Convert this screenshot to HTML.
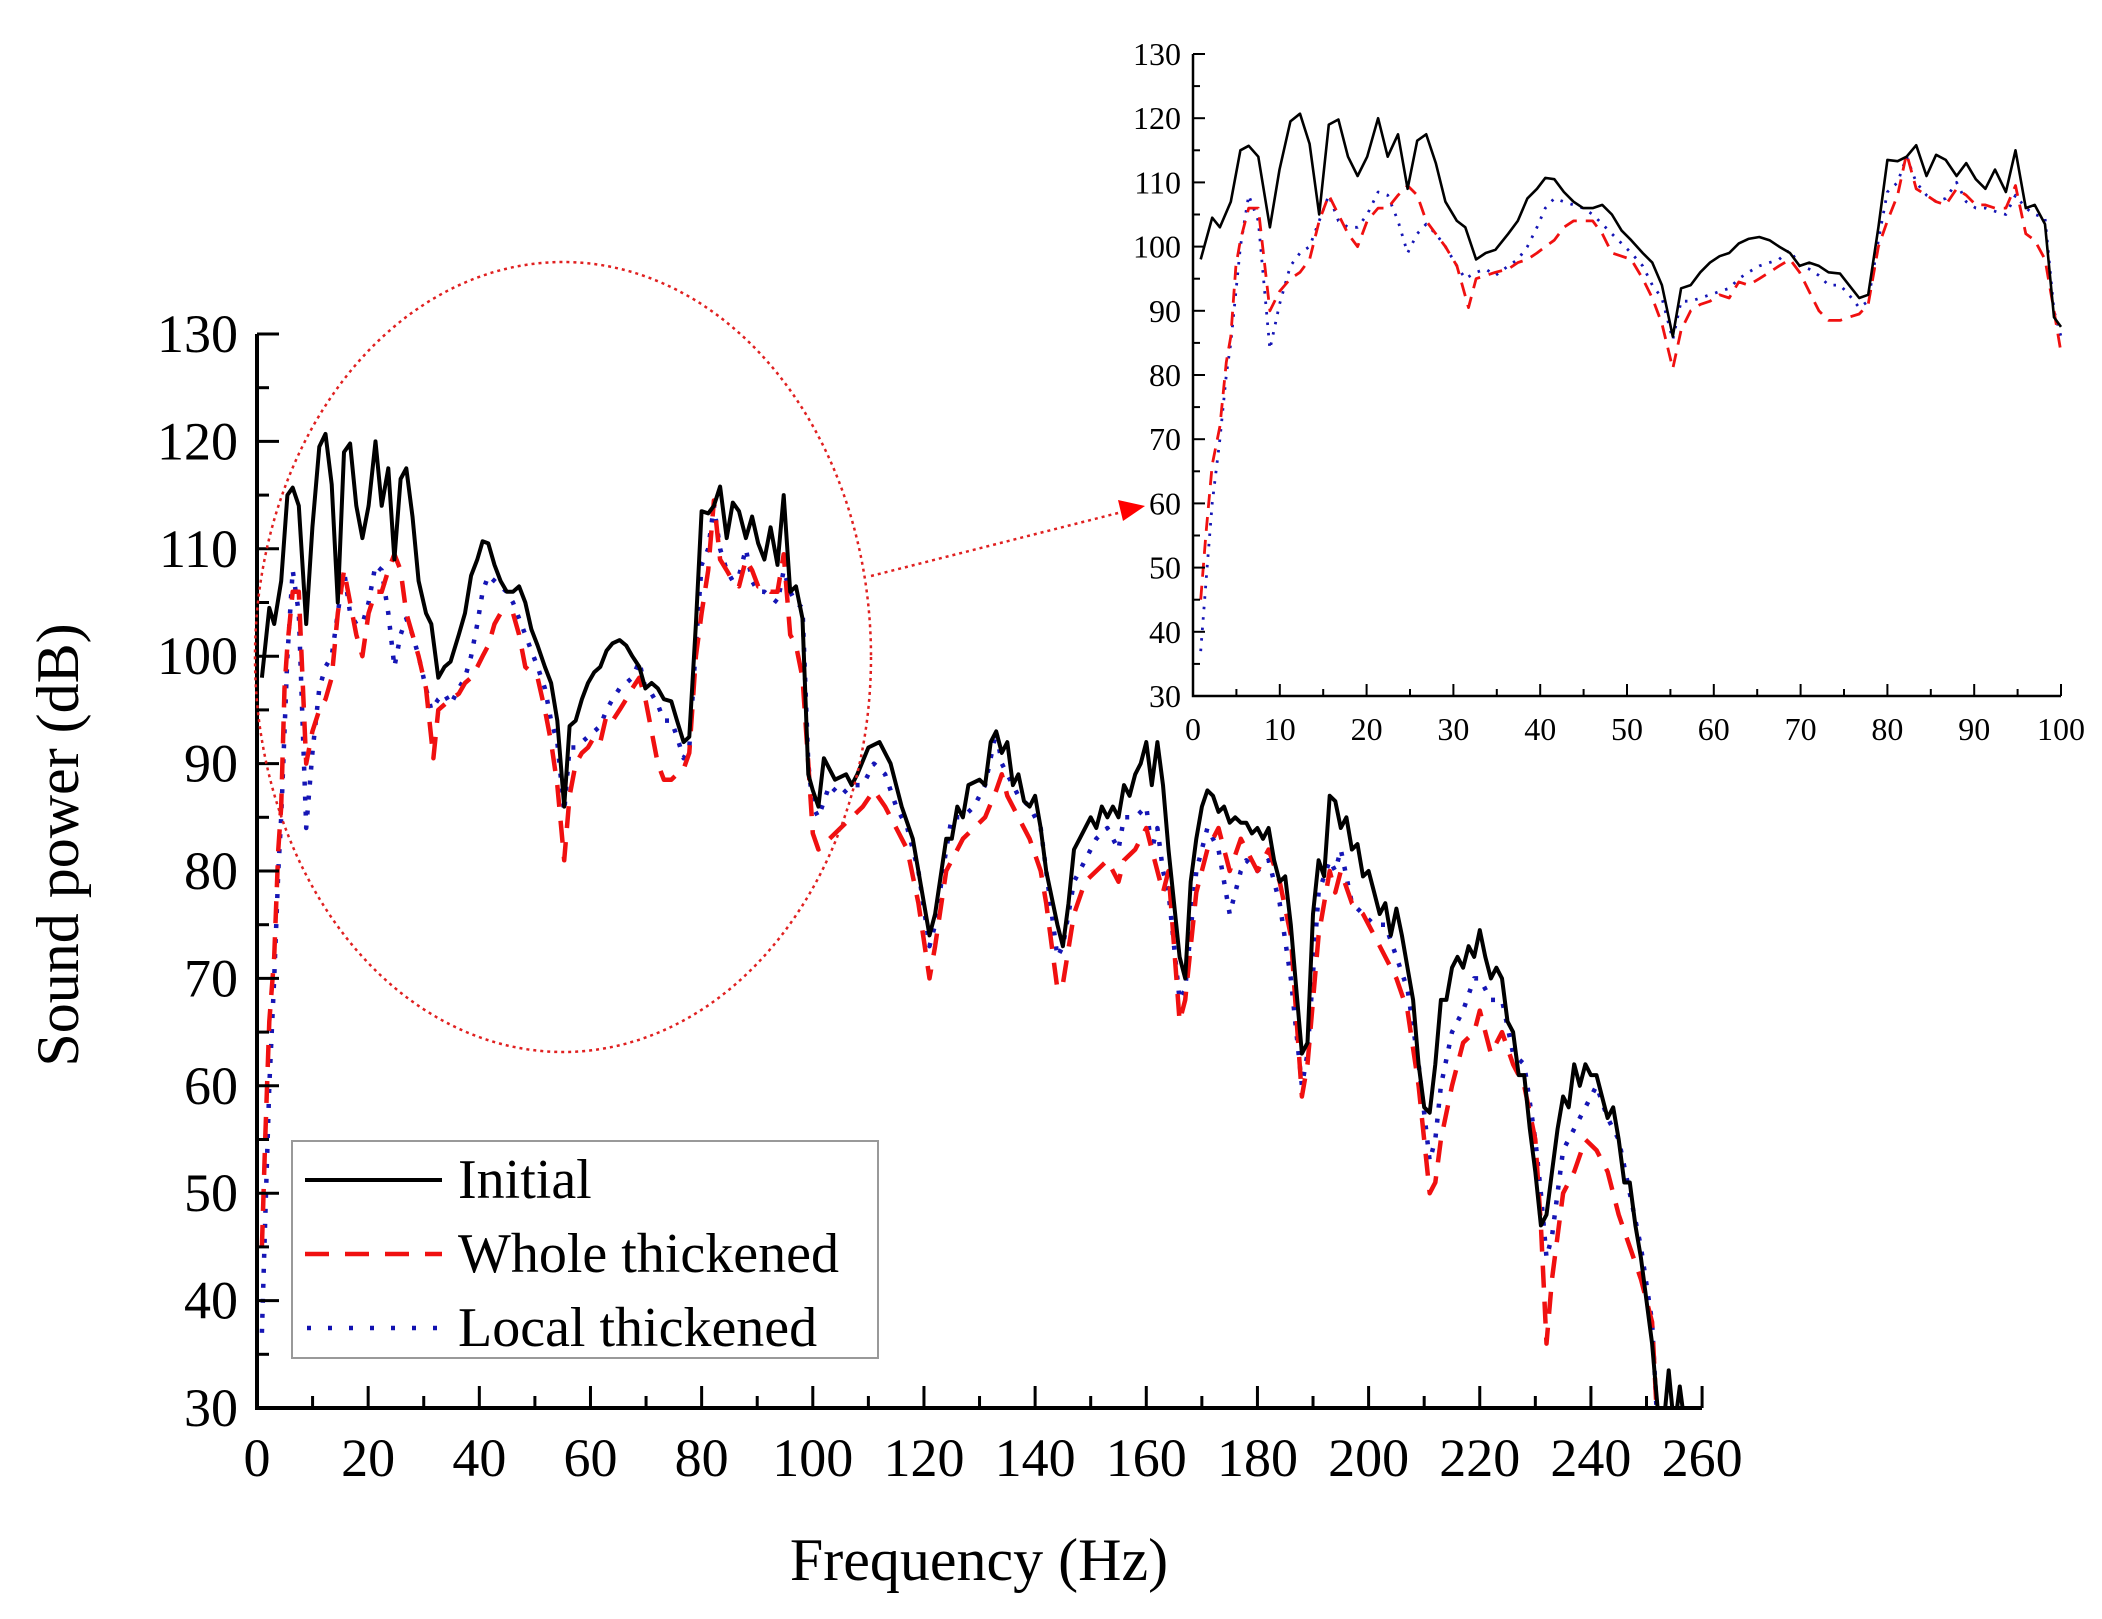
<!DOCTYPE html>
<html><head><meta charset="utf-8"><style>
html,body{margin:0;padding:0;background:#fff;}
svg{display:block;font-family:"Liberation Serif",serif;}
</style></head><body>
<svg id="s" width="2102" height="1619" viewBox="0 0 2102 1619" xmlns="http://www.w3.org/2000/svg">
<defs>
<clipPath id="cm"><rect x="257" y="300" width="1450" height="1108"/></clipPath>
<clipPath id="ci"><rect x="1193" y="40" width="875" height="656"/></clipPath>
</defs>
<g id="g"></g>
<ellipse cx="563" cy="657" rx="308" ry="395" fill="none" stroke="#e02020" stroke-width="2.5" stroke-dasharray="3 4"/>
<line x1="871" y1="576" x2="1122" y2="512" stroke="#e02020" stroke-width="2.5" stroke-dasharray="3 4"/>
<polygon points="1145,506 1118,500 1123,521" fill="#ff0000"/>
<rect x="292" y="1141" width="586" height="217" fill="#fff" stroke="#999" stroke-width="2"/>
<line x1="305" y1="1180" x2="442" y2="1180" stroke="#000" stroke-width="4"/>
<line x1="305" y1="1254" x2="442" y2="1254" stroke="#f01010" stroke-width="4.5" stroke-dasharray="24 16"/>
<line x1="307" y1="1328" x2="442" y2="1328" stroke="#1010b0" stroke-width="4.5" stroke-dasharray="4 17"/>
<g font-size="56" fill="#000">
<text x="458" y="1198">Initial</text>
<text x="458" y="1272">Whole thickened</text>
<text x="458" y="1346">Local thickened</text>
</g>
<text x="979" y="1580" font-size="60" text-anchor="middle">Frequency (Hz)</text>
<text transform="translate(78,845) rotate(-90)" font-size="60" text-anchor="middle">Sound power (dB)</text>
</svg>
<script>
var NS="http://www.w3.org/2000/svg",G=document.getElementById('g');
function el(t,a,txt){var e=document.createElementNS(NS,t);for(var k in a)e.setAttribute(k,a[k]);if(txt!=null)e.textContent=txt;G.appendChild(e);return e;}
function conv(a){var r=[];for(var i=0;i<a.length;i+=2)r.push([(a[i]-148)/13.55,a[i+1]]);return r;}
var bl=conv([160,98,178,104.5,190,103,207,107,222,115,235,115.7,250,114,268,103,283,112,300,119.5,315,120.7,330,116,345,105,360,119,375,119.8,390,114,405,111,420,114,437,120,452,114,468,117.5,483,109,498,116.5,512,117.5,527,113,542,107,560,104,573,103,590,98,605,99,620,99.5,640,102,655,104,670,107.5,685,109,698,110.7,712,110.5,727,108.5,742,107,757,106,772,106,787,106.5,802,105,817,102.5,832,101,850,99,865,97.5,880,94,897,86,910,93.5,925,94,940,96,955,97.5,970,98.5,985,99,1000,100.5,1015,101.2,1032,101.5,1048,101,1063,100,1080,99,1095,97,1110,97.5,1125,97,1140,96,1158,95.8,1172,94,1188,92,1202,92.5,1218,103,1232,113.5,1248,113.3,1262,114,1277,115.8,1293,111,1308,114.3,1323,113.5,1340,111,1355,113,1370,110.5,1385,109,1400,112,1417,108.5,1432,115,1448,106,1462,106.5,1478,103.5,1492,89,1503,87.5]);
var rd=conv([160,45,168,55,178,66,190,72,200,82,207,86,215,97,222,101,235,106,250,106,268,90,283,93,300,95,315,96,330,98,345,104,360,108,375,105,390,102,405,100,420,104,437,106,452,106,468,108,483,109.5,498,108,512,104,527,102,542,100,560,97,578,90.5,590,95,605,95.5,620,96,640,96.5,655,97.5,670,98,685,99,698,100,712,101,727,103,742,104,757,104,772,104,787,102,802,99,817,98.5,832,98,850,95,865,92,880,88,897,81,910,87,925,90,940,91,955,91.5,970,92.5,985,92,1000,94.5,1015,94,1032,95,1048,96,1063,97,1080,98,1095,96,1110,93,1125,90,1140,88.5,1158,88.5,1172,89,1188,89.5,1202,91,1218,100,1232,104,1248,108,1262,114.5,1277,109,1293,108,1308,107,1323,106.5,1340,109,1355,108,1370,106.5,1385,106.5,1400,106,1417,106,1432,109.5,1448,102,1462,101,1478,98,1492,90,1503,83.5]);
var bu=conv([160,37,170,50,178,60,190,70,200,80,207,85,222,100,235,108,250,104,268,84,283,91,300,97,315,99,330,100,345,104,360,108,375,104,390,103,405,103,420,105,437,108.5,452,108,468,104,483,99,498,102,512,103.5,527,102,542,100,560,97,573,95,590,96,605,96.5,620,95.5,640,97,655,98,670,100,685,103,698,106,712,107.5,727,107,742,106.5,757,106,772,105,787,103.5,802,102,817,100.5,832,99,850,97,865,94,880,92,897,85.5,910,91.5,925,91.5,940,92,955,92.5,970,93,985,93.5,1000,95,1015,96,1032,97,1048,97.5,1063,98,1080,99.5,1095,97,1110,96.5,1125,95.5,1140,94,1158,94,1172,92.5,1188,90.5,1202,91.5,1218,101,1232,108.5,1248,110,1262,114,1277,110,1293,108,1308,107,1323,107.5,1340,110,1355,107,1370,106,1385,106,1400,105.5,1417,105,1432,108,1448,106,1462,105,1478,104.5,1492,90,1503,86]);
function pairs(a){var r=[];for(var i=0;i<a.length;i+=2)r.push([a[i],a[i+1]]);return r;}
var blH=pairs([101,86,102,90.5,104,88.5,106,89,107,88,108,89,110,91.5,112,92,114,90,116,86,118,83,119,80,121,74,122,76,124,83,125,83,126,86,127,85,128,88,130,88.5,131,88,132,92,133,93,134,91,135,92,136,88,137,89,138,86.5,139,86,140,87,141,84,142,80,144,75,145,73,146,77,147,82,148,83,150,85,151,84,152,86,153,85,154,86,155,85,156,88,157,87,158,89,159,90,160,92,161,88,162,92,163,88,164,82,166,72,167,70,168,79,169,83,170,86,171,87.5,172,87,173,85.5,174,86,175,84.5,176,85,177,84.5,178,84.5,179,83.5,180,84,181,83,182,84,183,81,184,79,185,79.5,186,75,187,69,188,63,189,64,190,76,191,81,192,79.5,193,87,194,86.5,195,84,196,85,197,82,198,82.5,199,79.5,200,80,201,78,202,76,203,77,204,74,205,76.5,206,74,207,71,208,68,209,62,210,58,211,57.5,212,62,213,68,214,68,215,71,216,72,217,71,218,73,219,72,220,74.5,221,72,222,70,223,71,224,70,225,66,226,65,227,61,228,61,229,56,230,52,231,47,232,48,233,52,234,56,235,59,236,58,237,62,238,60,239,62,240,61,241,61,242,59,243,57,244,58,245,55,246,51,247,51,248,47,249,44,250,40,251,36,252,30,253,28,254,33.5,255,28,256,32,257,28]);
var rdH=pairs([101,82,103,83,105,84,107,85,109,86,111,87.5,113,86,115,84,117,82,119,77,121,70,122,73,124,80,125,81,127,83,129,84,131,85,133,87.5,134,89,135,87,137,85,139,83,141,80,142,77,144,69,145,69.5,147,76,149,79,151,80,153,81,155,79,156,81,158,82,160,84,161,82,162,80,163,78,164,80,166,66,167,68,169,78,171,82,173,84,175,80,177,83,178,82,180,80,182,82,184,79,186,74,188,59,189,62,191,74,193,80,194,78,195,80,197,77,199,76,201,74,203,72,205,70,207,67,209,60,211,50,212,51,213,55,215,60,217,64,219,65,220,67,222,63,224,65,226,62,228,60,230,55,231,47,232,36,233,42,235,50,237,52,239,55,241,54,243,52,245,48,247,45,249,42,251,38,252,28]);
var buH=pairs([101,85,103,88,105,87,107,88,109,88,111,90,113,89,115,86,117,84,119,80,121,73,122,75,124,82,125,85,127,85,129,86,131,88,133,93,134,90,135,89,137,87,139,86,141,84,142,80,144,72,145,73,147,79,149,81,151,83,153,84,155,82,156,85,158,85,160,86,161,82,162,84,163,80,164,78,166,68,167,69,169,80,171,84,173,82,175,76,177,80,178,81,180,80,182,81,184,77,186,70,188,60,189,63,191,78,193,81,194,80,195,82,197,77,199,76,201,75,203,75,205,72,207,69,209,62,211,53,212,55,213,60,215,65,217,67,219,70,220,70,222,68,224,68,226,63,228,62,230,55,231,50,232,44,233,46,235,54,237,56,239,58,241,60,243,57,245,55,247,50,249,45,251,38,252,28]);
function path(d,fx,fy){return d.map(function(p,i){return (i?'L':'M')+fx(p[0]).toFixed(1)+' '+fy(p[1]).toFixed(1);}).join('');}
var mx=function(f){return 257+f*5.558;},my=function(v){return 1408-(v-30)*10.74;};
var ix=function(f){return 1193+f*8.68;},iy=function(v){return 696-(v-30)*6.42;};
var styles=[{stroke:'#000','stroke-width':4},{stroke:'#f01010','stroke-width':4.5,'stroke-dasharray':'22 14'},{stroke:'#1515b5','stroke-width':4.5,'stroke-dasharray':'4 11'}];
var stylesI=[{stroke:'#000','stroke-width':2.6},{stroke:'#f01010','stroke-width':2.8,'stroke-dasharray':'14 9'},{stroke:'#1515b5','stroke-width':2.8,'stroke-dasharray':'2.5 8'}];
var mainD=[bl.concat(blH),rd.concat(rdH),bu.concat(buH)];
var insD=[bl,rd,bu];
[2,1,0].forEach(function(i){var s=Object.assign({d:path(mainD[i],mx,my),fill:'none','clip-path':'url(#cm)','stroke-linejoin':'round'},styles[i]);el('path',s);});
[2,1,0].forEach(function(i){var s=Object.assign({d:path(insD[i],ix,iy),fill:'none','clip-path':'url(#ci)','stroke-linejoin':'round'},stylesI[i]);el('path',s);});
el('path',{d:'M257 334 L257 1408 L1702 1408',fill:'none',stroke:'#000','stroke-width':4});
for(var f=0;f<=260;f+=10){var X=mx(f),maj=f%20==0;if(f>0)el('line',{x1:X,y1:1408,x2:X,y2:1408-(maj?22:12),stroke:'#000','stroke-width':3});if(maj)el('text',{x:X,y:1476,'font-size':54,'text-anchor':'middle'},String(f));}
for(var v=30;v<=130;v+=5){var Y=my(v),maj=v%10==0;if(v>30)el('line',{x1:257,y1:Y,x2:257+(maj?22:12),y2:Y,stroke:'#000','stroke-width':3});if(maj)el('text',{x:238,y:Y+18,'font-size':54,'text-anchor':'end'},String(v));}
el('path',{d:'M1193 54 L1193 696 L2061 696',fill:'none',stroke:'#000','stroke-width':2.5});
for(var f=0;f<=100;f+=5){var X=ix(f),maj=f%10==0;if(f>0)el('line',{x1:X,y1:696,x2:X,y2:696-(maj?12:7),stroke:'#000','stroke-width':2});if(maj)el('text',{x:X,y:740,'font-size':32,'text-anchor':'middle'},String(f));}
for(var v=30;v<=130;v+=5){var Y=iy(v),maj=v%10==0;if(v>30)el('line',{x1:1193,y1:Y,x2:1193+(maj?12:7),y2:Y,stroke:'#000','stroke-width':2});if(maj)el('text',{x:1181,y:Y+11,'font-size':32,'text-anchor':'end'},String(v));}
</script>
</body></html>
